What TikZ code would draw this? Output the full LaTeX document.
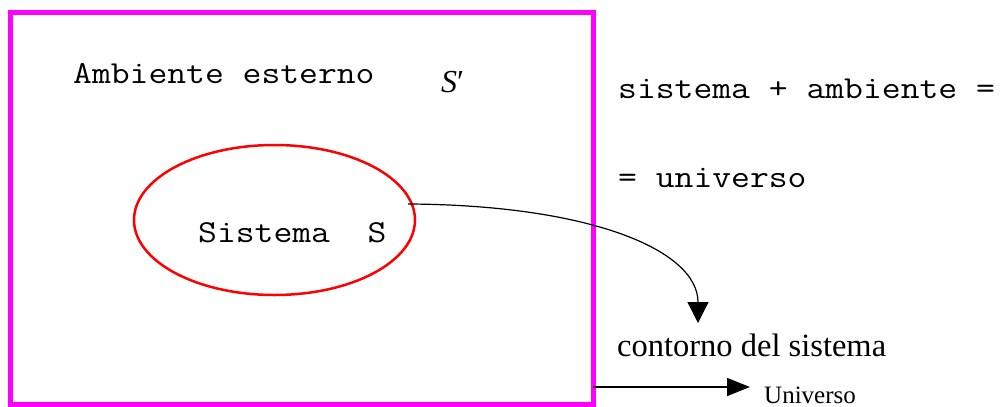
\documentclass[tikz,border=0pt]{standalone}
\usepackage{fontspec}
\setmainfont{Liberation Serif}
\usetikzlibrary{shapes.geometric,arrows.meta}
\newcommand{\widemono}[1]{\scalebox{1.143}[1]{#1}}
\begin{document}
\begin{tikzpicture}[x=1pt,y=-1pt,
  mono/.style={anchor=base west,inner sep=0pt,font=\ttfamily\fontsize{32}{36}\selectfont},
  serif/.style={anchor=base west,inner sep=0pt,font=\fontsize{32.5}{38}\selectfont},
  frame/.style={draw={rgb,255:red,255;green,0;blue,255},line width=5pt},
  sysell/.style={ellipse,draw={rgb,255:red,255;green,0;blue,0},line width=2.5pt,inner sep=0pt},
  conn/.style={line width=1.2pt,-{Triangle[length=21pt,width=21pt]}}]
\useasboundingbox (0,0) rectangle (1002,407);
\node[frame,draw,rectangle,minimum width=583pt,minimum height=392pt,inner sep=0pt] (univ) at (301.5,208) {};
\node[sysell,minimum width=281pt,minimum height=150pt] (sys) at (274.5,220) {};
\node[mono] (amb) at (73,83) {\widemono{Ambiente esterno}};
\node[serif,font=\fontsize{32}{38}\selectfont] (sp) at (441,92) {\textit{S}\char"2032};
\node[mono] (sysl) at (198,242) {\widemono{Sistema~~S}};
\node[mono] (eq1) at (618,98) {\widemono{sistema + ambiente =}};
\node[mono] (eq2) at (618,187) {\widemono{= universo}};
\node[serif] (cont) at (617,356) {contorno del sistema};
\node[serif,font=\fontsize{25}{30}\selectfont] (uni) at (764,403) {Universo};
\coordinate (c1) at (408,204);
\coordinate (c2) at (698,323);
\draw[conn] (c1) .. controls (590,205) and (698,250) .. (c2);
\coordinate (b1) at (593,387);
\coordinate (b2) at (750,387);
\draw[line width=1.5pt,-{Triangle[length=23pt,width=18pt]}] (b1) -- (b2);
\end{tikzpicture}
\end{document}
